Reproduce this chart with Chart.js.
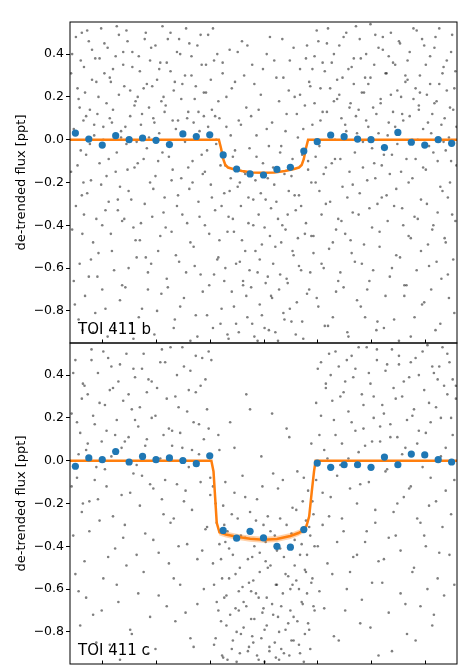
<!DOCTYPE html>
<html>
<head>
<meta charset="utf-8">
<script src="https://cdn.jsdelivr.net/npm/chart.js@4.4.1/dist/chart.umd.min.js"></script>
<style>
    html, body { margin: 0; padding: 0; background: #fff; overflow: hidden; width: 472px; height: 668px; }
    .panel { position: absolute; left: 0; width: 472px; }
</style>
</head>
<body>
<div class="panel" style="top:0;height:353px"><canvas id="chartB"></canvas></div>
<div class="panel" style="top:333px;height:341px"><canvas id="chartC"></canvas></div>
<script>
// tick values (x labels are cut off in the figure, only marks remain)
var xTicks = [-3, -2, -1, 0, 1, 2, 3];
var yTicks = [-0.8, -0.6, -0.4, -0.2, 0.0, 0.2, 0.4];

// binned points, same bin centres for both planets
var binX = [-3.5, -3.25, -3, -2.75, -2.5, -2.25, -2, -1.75, -1.5, -1.25, -1, -0.75, -0.5, -0.25, 0,
    0.25, 0.5, 0.75, 1, 1.25, 1.5, 1.75, 2, 2.25, 2.5, 2.75, 3, 3.25, 3.5];
var bBinY = [0.031, 0.003, -0.025, 0.019, 0.0, 0.008, -0.003, -0.023, 0.027, 0.015, 0.023, -0.071, -0.137, -0.160, -0.165,
    -0.139, -0.129, -0.053, -0.009, 0.022, 0.014, 0.003, 0.0, -0.037, 0.034, -0.012, -0.025, 0.0, -0.017];
var cBinY = [-0.026, 0.013, 0.005, 0.043, -0.006, 0.020, 0.005, 0.013, 0.001, -0.014, 0.023, -0.326, -0.362, -0.330, -0.361,
    -0.400, -0.404, -0.322, -0.011, -0.031, -0.019, -0.019, -0.031, 0.017, -0.019, 0.031, 0.027, 0.005, -0.006];

// transit models
var bModelX = [-3.6, -0.83, -0.79, -0.75, -0.71, -0.66, -0.55, -0.4, -0.2, 0, 0.2, 0.4, 0.55, 0.66, 0.71, 0.75, 0.79, 0.83, 3.6];
var bModelY = [0, 0, -0.04, -0.09, -0.118, -0.13, -0.138, -0.146, -0.153, -0.155, -0.153, -0.146, -0.138, -0.13, -0.118, -0.09, -0.04, 0, 0];
var cModelX = [-3.6, -0.97, -0.93, -0.90, -0.87, -0.82, -0.7, -0.5, -0.25, 0, 0.25, 0.5, 0.65, 0.74, 0.80, 0.85, 0.90, 0.94, 0.97, 3.6];
var cModelY = [0, 0, -0.05, -0.17, -0.29, -0.335, -0.345, -0.355, -0.365, -0.369, -0.366, -0.352, -0.338, -0.325, -0.305, -0.26, -0.14, -0.05, 0, 0];
var cModelErr = [0.003, 0.003, 0.006, 0.01, 0.012, 0.014, 0.014, 0.014, 0.014, 0.014, 0.014, 0.014, 0.014, 0.014, 0.014, 0.012, 0.01, 0.006, 0.003, 0.003];

// raw de-trended flux, TOI 411 b (two sectors at the same phases)
var bScatterX = [
    -3.58, -3.56, -3.53, -3.51, -3.49, -3.46, -3.44, -3.42, -3.40, -3.38, -3.37, -3.35,
    -3.34, -3.32, -3.30, -3.28, -3.25, -3.23, -3.21, -3.19, -3.17, -3.15, -3.13, -3.11,
    -3.09, -3.07, -3.05, -3.02, -3.00, -2.98, -2.96, -2.94, -2.92, -2.90, -2.88, -2.86,
    -2.84, -2.82, -2.80, -2.78, -2.75, -2.73, -2.71, -2.69, -2.67, -2.65, -2.63, -2.61,
    -2.59, -2.57, -2.55, -2.53, -2.51, -2.48, -2.46, -2.44, -2.42, -2.40, -2.38, -2.36,
    -2.34, -2.32, -2.30, -2.28, -2.26, -2.23, -2.21, -2.19, -2.17, -2.15, -2.13, -2.11,
    -2.09, -2.07, -2.05, -2.03, -2.01, -1.98, -1.96, -1.94, -1.92, -1.90, -1.88, -1.86,
    -1.84, -1.82, -1.80, -1.78, -1.76, -1.73, -1.71, -1.69, -1.67, -1.65, -1.63, -1.61,
    -1.59, -1.57, -1.55, -1.53, -1.51, -1.48, -1.46, -1.44, -1.42, -1.40, -1.38, -1.36,
    -1.34, -1.32, -1.30, -1.28, -1.26, -1.23, -1.21, -1.19, -1.17, -1.15, -1.13, -1.11,
    -1.09, -1.07, -1.05, -1.03, -1.01, -0.98, -0.96, -0.94, -0.92, -0.90, -0.88, -0.86,
    -0.84, -0.82, -0.80, -0.78, -0.76, -0.73, -0.71, -0.69, -0.67, -0.65, -0.63, -0.61,
    -0.59, -0.57, -0.55, -0.53, -0.51, -0.48, -0.46, -0.44, -0.42, -0.40, -0.38, -0.36,
    -0.34, -0.32, -0.30, -0.28, -0.26, -0.23, -0.21, -0.19, -0.17, -0.15, -0.13, -0.11,
    -0.09, -0.07, -0.05, -0.03, -0.01, 0.02, 0.04, 0.06, 0.08, 0.10, 0.12, 0.14,
    0.16, 0.18, 0.20, 0.22, 0.24, 0.27, 0.29, 0.31, 0.33, 0.35, 0.37, 0.39,
    0.41, 0.43, 0.45, 0.47, 0.49, 0.52, 0.54, 0.56, 0.58, 0.60, 0.62, 0.64,
    0.66, 0.68, 0.70, 0.72, 0.74, 0.77, 0.79, 0.81, 0.83, 0.85, 0.87, 0.89,
    0.91, 0.93, 0.95, 0.97, 0.99, 1.02, 1.04, 1.06, 1.08, 1.10, 1.12, 1.14,
    1.16, 1.18, 1.20, 1.22, 1.24, 1.27, 1.29, 1.31, 1.33, 1.35, 1.37, 1.39,
    1.41, 1.43, 1.45, 1.47, 1.49, 1.52, 1.54, 1.56, 1.58, 1.60, 1.62, 1.64,
    1.66, 1.68, 1.70, 1.72, 1.74, 1.77, 1.79, 1.81, 1.83, 1.85, 1.87, 1.89,
    1.91, 1.93, 1.95, 1.97, 1.99, 2.02, 2.04, 2.06, 2.08, 2.10, 2.12, 2.14,
    2.16, 2.18, 2.20, 2.22, 2.24, 2.27, 2.29, 2.31, 2.33, 2.35, 2.37, 2.39,
    2.41, 2.43, 2.45, 2.47, 2.49, 2.52, 2.54, 2.56, 2.58, 2.60, 2.62, 2.64,
    2.66, 2.68, 2.70, 2.72, 2.74, 2.77, 2.79, 2.81, 2.83, 2.85, 2.87, 2.89,
    2.91, 2.93, 2.95, 2.97, 2.99, 3.02, 3.04, 3.06, 3.08, 3.10, 3.12, 3.14,
    3.16, 3.18, 3.20, 3.22, 3.24, 3.27, 3.29, 3.31, 3.33, 3.35, 3.37, 3.39,
    3.41, 3.43, 3.45, 3.47, 3.49, 3.51, 3.53, 3.55, 3.57, 3.59
];
var bScatterY = [
    0.31, -0.42, 0.05, -0.77, 0.48, -0.12, 0.19, -0.58, 0.37, -0.26, -0.89, 0.09,
    -0.35, 0.22, -0.07, 0.51, -0.64, 0.14, -0.19, 0.42, -0.48, 0.02, -0.81, 0.27,
    0.12, -0.53, 0.38, -0.21, -0.70, 0.06, 0.45, -0.33, 0.17, -0.92, -0.09, 0.29,
    -0.44, 0.08, 0.33, -0.61, -0.15, 0.53, -0.28, 0.21, -0.75, 0.01, -0.38, 0.41,
    0.25, -0.69, -0.02, 0.46, -0.24, 0.11, -0.86, 0.34, -0.41, -0.13, 0.18, -0.55,
    -0.11, 0.39, -0.47, 0.07, -0.79, 0.24, -0.30, 0.50, -0.04, -0.62, 0.15, -0.20,
    0.43, -0.36, 0.10, -0.91, -0.17, 0.28, -0.52, 0.03, 0.36, -0.72, -0.06, 0.20,
    -0.27, 0.16, -0.65, 0.47, -0.08, 0.32, -0.43, -0.14, 0.23, -0.84, 0.05, -0.31,
    0.09, -0.57, 0.40, -0.18, 0.26, -0.74, -0.01, 0.52, -0.39, 0.13, -0.23, -0.94,
    0.30, -0.10, -0.50, 0.19, -0.82, 0.44, -0.29, 0.04, -0.63, 0.35, -0.16, 0.11,
    -0.40, 0.22, -0.05, 0.49, -0.68, -0.21, 0.14, -0.88, 0.37, -0.33, 0.00, -0.56,
    0.18, -0.47, -0.12, -0.79, 0.31, -0.25, -0.60, 0.06, -0.91, -0.36, 0.42, -0.18,
    -0.71, -0.08, -0.43, 0.27, -0.86, -0.22, 0.09, -0.57, -0.31, 0.46, -0.66, -0.15,
    -0.52, 0.15, -0.83, -0.27, -0.04, -0.69, 0.35, -0.40, -0.92, -0.19, 0.02, -0.62,
    -0.35, -0.77, 0.21, -0.49, -0.11, -0.88, -0.28, 0.40, -0.64, -0.03, -0.45, -0.73,
    0.08, -0.58, -0.21, -0.90, 0.29, -0.37, -0.70, -0.06, -0.48, 0.47, -0.81, -0.16,
    -0.42, 0.12, -0.67, -0.24, 0.37, -0.85, -0.09, -0.54, 0.20, -0.33, -0.76, 0.01,
    -0.26, 0.33, -0.61, -0.07, -0.93, 0.16, -0.39, 0.44, -0.14, -0.70, 0.25, -0.45,
    0.07, -0.53, 0.39, -0.20, 0.51, -0.78, -0.03, 0.24, -0.35, 0.13, -0.60, 0.32,
    -0.13, 0.45, -0.87, 0.02, -0.29, 0.36, -0.48, 0.18, -0.09, -0.71, 0.28, -0.37,
    0.21, -0.62, 0.10, -0.22, 0.48, -0.44, 0.04, -0.90, 0.33, -0.15, 0.17, -0.53,
    -0.34, 0.26, -0.06, 0.53, -0.75, 0.14, -0.25, 0.38, -0.58, -0.01, 0.22, -0.83,
    0.40, -0.19, 0.06, -0.66, 0.29, -0.41, 0.15, -0.11, 0.49, -0.89, -0.30, 0.03,
    -0.50, 0.19, -0.27, 0.42, -0.07, -0.73, 0.31, -0.38, 0.08, -0.16, 0.50, -0.60,
    0.13, -0.84, 0.35, -0.23, -0.02, 0.46, -0.55, 0.20, -0.32, 0.09, -0.68, 0.27,
    -0.09, 0.37, -0.45, 0.11, -0.92, -0.18, 0.52, -0.36, 0.24, -0.61, 0.00, 0.16,
    0.30, -0.28, -0.77, 0.05, 0.44, -0.14, 0.21, -0.49, -0.03, 0.39, -0.70, 0.12,
    -0.40, 0.17, 0.48, -0.57, -0.10, 0.26, -0.86, 0.07, -0.24, 0.34, -0.46, -0.05,
    0.23, -0.63, 0.01, -0.20, 0.41, -0.35, 0.14, -0.81, 0.32, -0.12
];
var bScatterY2 = [
    -0.15, 0.40, -0.66, 0.03, -0.31, 0.24, -0.84, 0.15, -0.05, 0.50, -0.44, -0.20,
    0.34, -0.73, 0.11, -0.25, 0.46, -0.02, -0.56, 0.28, -0.90, 0.07, 0.38, -0.37,
    -0.64, 0.20, -0.11, 0.52, -0.40, 0.00, 0.31, -0.79, -0.17, 0.43, -0.29, 0.10,
    0.27, -0.52, 0.14, -0.88, 0.39, -0.06, -0.33, 0.49, -0.22, 0.04, -0.68, 0.35,
    -0.37, 0.06, 0.51, -0.14, -0.60, 0.23, -0.28, 0.41, -0.93, 0.16, -0.47, -0.01,
    0.20, -0.83, 0.32, -0.39, 0.12, -0.09, 0.47, -0.55, 0.26, -0.70, 0.01, 0.37,
    -0.58, 0.25, -0.23, 0.08, 0.44, -0.80, -0.10, 0.33, -0.45, 0.18, 0.53, -0.34,
    0.13, -0.41, 0.36, -0.69, -0.03, 0.50, -0.19, 0.09, -0.88, 0.27, -0.54, 0.41,
    -0.26, 0.47, -0.78, 0.19, -0.35, 0.03, 0.30, -0.62, 0.10, -0.13, 0.45, -0.48,
    0.39, -0.20, 0.08, -0.59, 0.25, -0.92, 0.13, -0.36, 0.49, -0.07, -0.71, 0.22,
    -0.15, 0.35, -0.82, 0.06, -0.44, 0.28, -0.27, 0.52, -0.63, 0.11, -0.02, 0.40,
    -0.55, 0.10, -0.86, -0.31, 0.36, -0.66, -0.12, 0.20, -0.43, -0.93, -0.24, 0.02,
    0.24, -0.37, -0.78, -0.05, -0.58, 0.41, -0.90, -0.20, 0.07, -0.47, -0.68, 0.30,
    -0.16, -0.73, 0.44, -0.39, -0.61, 0.11, -0.86, -0.28, 0.26, -0.52, -0.08, -0.94,
    0.14, -0.56, -0.25, -0.82, 0.33, -0.41, -0.67, 0.05, -0.18, -0.89, 0.48, -0.32,
    -0.74, -0.13, 0.37, -0.50, -0.29, -0.94, 0.18, -0.63, -0.03, -0.40, 0.29, -0.84,
    0.04, -0.65, -0.35, 0.23, -0.79, -0.17, -0.52, 0.43, -0.26, -0.91, 0.12, -0.46,
    -0.59, 0.21, -0.31, -0.85, 0.05, -0.44, 0.38, -0.72, -0.10, 0.27, -0.62, -0.20,
    0.33, -0.45, 0.17, -0.08, -0.74, 0.46, -0.24, 0.09, -0.58, 0.36, -0.16, -0.87,
    -0.30, 0.13, 0.52, -0.51, 0.24, -0.11, -0.83, 0.40, 0.00, -0.42, 0.19, -0.66,
    0.44, -0.09, -0.38, 0.29, -0.69, 0.07, 0.50, -0.27, -0.92, 0.15, -0.47, 0.34,
    -0.21, 0.38, -0.57, 0.11, 0.03, -0.35, 0.47, -0.78, 0.22, -0.13, -0.49, 0.29,
    0.09, -0.70, 0.26, -0.32, 0.54, -0.04, -0.61, 0.35, -0.18, 0.12, -0.85, 0.43,
    -0.43, 0.17, -0.12, 0.48, -0.88, 0.31, -0.26, 0.02, 0.39, -0.64, 0.21, -0.07,
    0.36, -0.31, 0.06, -0.54, 0.23, -0.94, 0.45, -0.15, 0.12, -0.40, -0.73, 0.30,
    -0.68, 0.28, -0.20, 0.41, -0.46, 0.00, 0.19, -0.83, -0.09, 0.51, -0.37, 0.14,
    0.22, -0.52, 0.47, -0.13, -0.76, 0.35, -0.30, 0.08, -0.59, 0.26, 0.03, -0.42,
    -0.06, 0.43, -0.89, 0.18, -0.34, 0.52, -0.22, -0.65, 0.31, -0.01, 0.10, -0.48,
    0.37, -0.27, -0.74, 0.15, -0.10, 0.49, -0.56, 0.24, -0.38, 0.06
];

// raw de-trended flux, TOI 411 c (two sectors at the same phases)
var cScatterX = [
    -3.57, -3.54, -3.50, -3.47, -3.44, -3.41, -3.38, -3.36,
    -3.33, -3.30, -3.27, -3.24, -3.20, -3.17, -3.14, -3.11,
    -3.08, -3.05, -3.01, -2.98, -2.95, -2.92, -2.89, -2.86,
    -2.83, -2.80, -2.76, -2.73, -2.70, -2.67, -2.64, -2.61,
    -2.58, -2.55, -2.51, -2.48, -2.45, -2.42, -2.39, -2.36,
    -2.33, -2.30, -2.26, -2.23, -2.20, -2.17, -2.14, -2.11,
    -2.08, -2.05, -2.01, -1.98, -1.95, -1.92, -1.89, -1.86,
    -1.83, -1.80, -1.76, -1.73, -1.70, -1.67, -1.64, -1.61,
    -1.58, -1.55, -1.51, -1.48, -1.45, -1.42, -1.39, -1.36,
    -1.33, -1.30, -1.26, -1.23, -1.20, -1.17, -1.14, -1.11,
    -1.08, -1.05, -1.02, -0.99, -0.97,
    -0.94, -0.92, -0.89, -0.87, -0.84, -0.82, -0.79, -0.77, -0.75, -0.73, -0.71,
    -0.69, -0.67, -0.64, -0.62, -0.59, -0.57, -0.54, -0.52, -0.50, -0.48, -0.46,
    -0.44, -0.42, -0.39, -0.37, -0.34, -0.32, -0.29, -0.27, -0.25, -0.23, -0.21,
    -0.19, -0.17, -0.14, -0.12, -0.09, -0.07, -0.04, -0.02, 0.00, 0.02, 0.04,
    0.06, 0.08, 0.11, 0.13, 0.16, 0.18, 0.21, 0.23, 0.25, 0.27, 0.29,
    0.31, 0.33, 0.36, 0.38, 0.41, 0.43, 0.46, 0.48, 0.50, 0.52, 0.54,
    0.56, 0.58, 0.61, 0.63, 0.66, 0.68, 0.71, 0.73, 0.75, 0.77, 0.79,
    0.81, 0.83, 0.85, 0.87, 0.89, 0.91, 0.93, 0.95,
    0.98, 1.01, 1.04, 1.07, 1.10, 1.13, 1.16, 1.19,
    1.22, 1.25, 1.28, 1.31, 1.34, 1.37, 1.40, 1.43,
    1.46, 1.49, 1.52, 1.55, 1.58, 1.61, 1.64, 1.67,
    1.71, 1.74, 1.77, 1.80, 1.83, 1.86, 1.89, 1.92,
    1.96, 1.99, 2.02, 2.05, 2.08, 2.11, 2.14, 2.17,
    2.21, 2.24, 2.27, 2.30, 2.33, 2.36, 2.39, 2.42,
    2.46, 2.49, 2.52, 2.55, 2.58, 2.61, 2.64, 2.67,
    2.71, 2.74, 2.77, 2.80, 2.83, 2.86, 2.89, 2.92,
    2.96, 2.99, 3.02, 3.05, 3.08, 3.11, 3.14, 3.17,
    3.21, 3.24, 3.27, 3.30, 3.33, 3.36, 3.39, 3.42,
    3.46, 3.49, 3.52, 3.55, 3.58
];
var cScatterY = [
    0.22, -0.35, 0.47, -0.08, -0.61, 0.13, -0.24, 0.36,
    -0.47, 0.05, 0.31, -0.19, 0.52, -0.72, 0.17, -0.03,
    0.41, -0.28, 0.09, -0.55, 0.26, -0.12, 0.48, -0.86,
    0.02, 0.34, -0.41, 0.19, -0.66, 0.45, -0.16, 0.28,
    -0.30, 0.50, 0.11, -0.79, 0.24, -0.06, 0.39, -0.44,
    0.16, -0.21, 0.43, -0.52, 0.07, 0.32, -0.90, -0.11,
    0.37, -0.37, 0.21, 0.00, -0.63, 0.46, -0.18, 0.12,
    -0.09, 0.29, -0.48, 0.53, 0.14, -0.27, -0.75, 0.40,
    0.25, -0.58, 0.06, 0.44, -0.14, -0.39, 0.33, -0.83,
    -0.23, 0.18, 0.49, -0.67, 0.03, 0.35, -0.42, 0.10,
    0.38, -0.31, 0.15, -0.08, 0.47,
    -0.12, -0.58, -0.83, -0.29, -0.70, 0.05, -0.46, -0.91, -0.21, -0.64, -0.38,
    -0.77, -0.33, -0.55, 0.18, -0.88, -0.44, -0.15, -0.69, -0.94, -0.27, -0.61,
    -0.50, -0.81, -0.07, -0.66, -0.36, 0.31, -0.89, -0.57, -0.24, -0.74, -0.45,
    -0.85, -0.40, -0.62, -0.18, -0.93, -0.52, 0.02, -0.71, -0.30, -0.79, -0.47,
    -0.64, -0.26, -0.87, -0.49, 0.22, -0.72, -0.35, -0.92, -0.58, -0.13, -0.80,
    -0.41, -0.68, -0.09, -0.90, -0.53, -0.30, -0.76, 0.11, -0.60, -0.84, -0.22,
    -0.73, -0.37, -0.56, -0.05, -0.86, -0.44, -0.66, -0.19, -0.94, -0.51, -0.28,
    -0.62, -0.14, -0.79, -0.35, 0.08, -0.55, -0.25, -0.70,
    0.27, -0.40, 0.12, 0.46, -0.15, -0.69, 0.34, 0.01,
    -0.26, 0.40, -0.53, 0.19, 0.51, -0.07, -0.84, 0.30,
    0.08, -0.33, 0.37, -0.60, 0.23, -0.13, 0.49, -0.45,
    0.43, -0.20, 0.04, -0.76, 0.31, 0.15, -0.38, 0.53,
    -0.10, 0.36, -0.57, 0.20, -0.29, 0.47, -0.91, 0.09,
    0.26, -0.46, 0.42, -0.04, -0.71, 0.17, 0.52, -0.24,
    -0.35, 0.11, 0.45, -0.62, 0.30, -0.17, 0.06, -0.81,
    0.39, -0.12, 0.21, -0.50, 0.48, -0.27, 0.14, -0.68,
    -0.03, 0.33, -0.40, 0.54, -0.21, 0.18, -0.77, 0.41,
    0.25, -0.55, 0.44, 0.02, -0.31, 0.35, -0.14, 0.50,
    -0.44, 0.20, 0.38, -0.09, 0.29
];
var cScatterY2 = [
    -0.12, 0.41, -0.53, 0.18, 0.03, -0.77, 0.29, -0.20,
    0.35, -0.64, 0.08, -0.33, 0.47, 0.21, -0.09, -0.85,
    -0.18, 0.27, -0.70, 0.51, -0.04, 0.14, -0.45, 0.33,
    0.44, -0.26, 0.12, -0.58, 0.37, -0.93, 0.06, -0.36,
    0.09, -0.49, 0.31, -0.15, -0.81, 0.43, 0.19, -0.02,
    -0.62, 0.25, -0.07, 0.50, -0.34, 0.10, 0.38, -0.73,
    0.20, -0.13, -0.88, 0.34, -0.43, 0.01, 0.52, -0.25,
    0.46, -0.68, 0.15, -0.29, 0.07, -0.55, 0.30, -0.11,
    -0.40, 0.13, 0.53, -0.19, -0.71, 0.23, -0.03, 0.42,
    0.05, -0.87, 0.32, -0.46, 0.17, -0.10, 0.48, -0.60,
    -0.32, 0.24, 0.51, -0.16, 0.02,
    -0.48, -0.86, -0.20, -0.66, 0.12, -0.39, -0.75, -0.55, -0.92, -0.30, -0.10,
    -0.63, -0.93, -0.41, -0.72, -0.25, -0.84, 0.06, -0.53, -0.80, -0.36, -0.70,
    -0.90, -0.35, -0.59, -0.78, -0.17, -0.68, -0.46, -0.87, 0.24, -0.61, -0.82,
    -0.56, -0.74, -0.28, -0.91, -0.64, -0.43, -0.83, -0.12, -0.69, -0.94, -0.38,
    -0.77, -0.50, -0.89, -0.33, -0.67, -0.06, -0.85, -0.58, -0.42, -0.73, -0.93,
    -0.27, -0.88, -0.62, -0.45, -0.79, 0.15, -0.54, -0.91, -0.70, -0.34, -0.58,
    -0.84, -0.49, -0.23, -0.75, -0.60, -0.90, -0.39, -0.67, -0.08, -0.81, -0.52,
    -0.44, -0.76, -0.31, -0.88, -0.57, -0.19, -0.68, -0.40,
    -0.09, 0.43, -0.61, 0.21, -0.30, 0.05, 0.36, -0.48,
    0.50, -0.17, 0.28, -0.82, 0.12, -0.38, 0.44, -0.02,
    -0.27, 0.32, -0.70, 0.47, 0.01, -0.52, 0.18, 0.39,
    0.14, -0.44, 0.53, -0.11, -0.65, 0.26, 0.07, -0.33,
    0.41, -0.78, 0.09, 0.30, -0.23, 0.52, -0.47, 0.16,
    -0.57, 0.22, -0.05, 0.45, -0.36, 0.11, -0.89, 0.34,
    0.29, -0.20, 0.49, -0.42, 0.03, 0.37, -0.67, 0.19,
    -0.13, 0.46, -0.52, 0.24, -0.84, 0.08, 0.40, -0.29,
    0.51, -0.35, 0.13, -0.60, 0.27, -0.08, 0.44, -0.72,
    -0.19, 0.38, -0.43, 0.20, 0.53, -0.63, 0.06, 0.31,
    0.46, -0.25, 0.12, -0.58, 0.35
];

function toPoints(xs, ys) {
    var n = Math.min(xs.length, ys.length);
    var pts = [];
    for (var i = 0; i < n; i++) pts.push({ x: xs[i], y: ys[i] });
    return pts;
}

// frame, inward x tick marks and the planet label
var framePlugin = {
    id: 'frame',
    afterDatasetsDraw: function (chart, args, opts) {
        var a = chart.chartArea;
        var ctx = chart.ctx;
        var xs = chart.scales.x;
        ctx.save();
        ctx.strokeStyle = '#000';
        ctx.lineWidth = 1;
        ctx.strokeRect(a.left, a.top, a.right - a.left, a.bottom - a.top);
        xTicks.forEach(function (v) {
            var px = Math.round(xs.getPixelForValue(v)) + 0.5;
            ctx.beginPath();
            ctx.moveTo(px, a.bottom);
            ctx.lineTo(px, a.bottom - 3.5);
            ctx.stroke();
        });
        ctx.fillStyle = '#000';
        ctx.font = '15px "DejaVu Sans"';
        ctx.textBaseline = 'alphabetic';
        ctx.fillText(opts.label, a.left + 8, a.bottom - 9.5);
        ctx.restore();
    }
};

function makeChart(canvasId, cfg) {
    var grayDot = {
        type: 'scatter',
        pointRadius: 1.3,
        pointBackgroundColor: 'rgba(0,0,0,0.5)',
        pointBorderWidth: 0,
        order: 5
    };
    var datasets = [];
    datasets.push(Object.assign({ data: toPoints(cfg.scatterX, cfg.scatterY) }, grayDot));
    datasets.push(Object.assign({ data: toPoints(cfg.scatterX, cfg.scatterY2) }, grayDot));
    if (cfg.modelErr) {
        var hi = cfg.modelY.map(function (v, i) { return v + cfg.modelErr[i]; });
        var lo = cfg.modelY.map(function (v, i) { return v - cfg.modelErr[i]; });
        datasets.push({
            type: 'line', data: toPoints(cfg.modelX, hi),
            borderColor: 'rgba(0,0,0,0)', borderWidth: 0, pointRadius: 0,
            fill: '+1', backgroundColor: 'rgba(255,127,14,0.35)', order: 3
        });
        datasets.push({
            type: 'line', data: toPoints(cfg.modelX, lo),
            borderColor: 'rgba(0,0,0,0)', borderWidth: 0, pointRadius: 0,
            fill: false, order: 3
        });
    }
    datasets.push({
        type: 'line',
        data: toPoints(cfg.modelX, cfg.modelY),
        borderColor: '#ff7f0e',
        borderWidth: 2.5,
        pointRadius: 0,
        tension: 0,
        fill: false,
        order: 2
    });
    datasets.push({
        type: 'scatter',
        data: toPoints(binX, cfg.binY),
        pointRadius: 3.6,
        pointBackgroundColor: '#1f77b4',
        pointBorderWidth: 0,
        order: 1
    });

    return new Chart(document.getElementById(canvasId).getContext('2d'), {
        type: 'scatter',
        data: { datasets: datasets },
        plugins: [framePlugin],
        options: {
            responsive: true,
            maintainAspectRatio: false,
            animation: false,
            layout: { padding: cfg.padding },
            plugins: {
                legend: { display: false },
                tooltip: { enabled: false },
                frame: { label: cfg.label }
            },
            scales: {
                x: { type: 'linear', min: -3.6, max: 3.6, display: false },
                y: {
                    type: 'linear',
                    min: -0.95,
                    max: 0.55,
                    afterBuildTicks: function (scale) {
                        scale.ticks = yTicks.map(function (v) { return { value: v }; });
                    },
                    afterFit: function (scale) { scale.width = 70; },
                    border: { display: false },
                    grid: { drawOnChartArea: false, drawTicks: true, tickLength: 4, color: '#000', lineWidth: 1 },
                    ticks: {
                        padding: 2,
                        color: '#000',
                        font: { family: 'DejaVu Sans', size: 12.5 },
                        callback: function (v) { return (v < 0 ? '\u2212' : '') + Math.abs(v).toFixed(1); }
                    },
                    title: {
                        display: true,
                        text: 'de-trended flux [ppt]',
                        color: '#000',
                        font: { family: 'DejaVu Sans', size: 13 },
                        padding: { top: 14, bottom: 0 }
                    }
                }
            }
        }
    });
}

// paddings of 10px stay above the room the y tick labels ask for,
// so the plot areas land at 22-343 and 343-664
makeChart('chartB', {
    scatterX: bScatterX, scatterY: bScatterY, scatterY2: bScatterY2, binY: bBinY,
    modelX: bModelX, modelY: bModelY, modelErr: null,
    label: 'TOI 411 b', padding: { top: 22, right: 15, bottom: 10, left: 0 }
});
makeChart('chartC', {
    scatterX: cScatterX, scatterY: cScatterY, scatterY2: cScatterY2, binY: cBinY,
    modelX: cModelX, modelY: cModelY, modelErr: cModelErr,
    label: 'TOI 411 c', padding: { top: 10, right: 15, bottom: 10, left: 0 }
});
</script>
</body>
</html>
